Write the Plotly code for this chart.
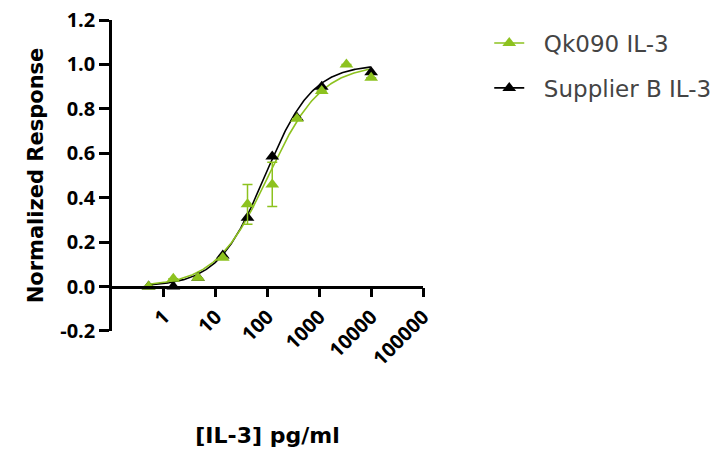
import numpy as np
import plotly.graph_objects as go

# ---- data ----
dose = [0.508, 1.524, 4.572, 13.72, 41.15, 123.5, 370.4, 1111, 3333, 10000]
qk090 = [0.0, 0.035, 0.04, 0.13, 0.37, 0.46, 0.755, 0.88, 1.0, 0.94]
qk090_err = [0, 0, 0, 0, 0.09, 0.10, 0, 0, 0, 0]
supplier_b = [0.0, 0.0, 0.04, 0.14, 0.31, 0.585, 0.76, 0.90, None, 0.965]

# 4PL fit parameters: bottom, top, EC50, hill
fit_qk090 = [0.0, 1.0, 105.0, 0.85]
fit_supplier_b = [0.0, 1.0, 90.0, 0.95]

x_ticks = [1, 10, 100, 1000, 10000, 100000]
x_tick_text = ["1", "10", "100", "1000", "10000", "100000"]
y_ticks = [-0.2, 0.0, 0.2, 0.4, 0.6, 0.8, 1.0, 1.2]
y_tick_text = ["-0.2", "0.0", "0.2", "0.4", "0.6", "0.8", "1.0", "1.2"]

GREEN = "#8dc21f"
BLACK = "#000000"


def four_pl(x, p):
    b, t, ec, h = p
    return b + (t - b) / (1 + (ec / x) ** h)


xc = np.logspace(np.log10(dose[0]), np.log10(dose[-1]), 300)

fig = go.Figure()
fig.add_trace(go.Scatter(x=xc, y=four_pl(xc, fit_supplier_b), mode="lines",
                         line=dict(color=BLACK, width=1.6), showlegend=False, hoverinfo="skip"))
fig.add_trace(go.Scatter(x=xc, y=four_pl(xc, fit_qk090), mode="lines",
                         line=dict(color=GREEN, width=1.6), showlegend=False, hoverinfo="skip"))
fig.add_trace(go.Scatter(x=dose, y=supplier_b, mode="markers",
                         marker=dict(symbol="triangle-up", size=12, color=BLACK),
                         showlegend=False))
fig.add_trace(go.Scatter(x=dose, y=qk090, mode="markers",
                         marker=dict(symbol="triangle-up", size=12, color=GREEN),
                         error_y=dict(type="data", array=qk090_err, color=GREEN,
                                      thickness=1.5, width=5),
                         showlegend=False))

# legend entries
fig.add_trace(go.Scatter(x=[None], y=[None], mode="lines+markers", name="  Qk090 IL-3",
                         legendgroup="a",
                         line=dict(color=GREEN, width=1.6),
                         marker=dict(symbol="triangle-up", size=12, color=GREEN)))
fig.add_trace(go.Scatter(x=[None], y=[None], mode="lines+markers", name="  Supplier B IL-3",
                         legendgroup="b",
                         line=dict(color=BLACK, width=1.6),
                         marker=dict(symbol="triangle-up", size=12, color=BLACK)))

TICKFONT = "Open Sans"
TITLEFONT = "DejaVu Sans"

fig.update_layout(
    width=721, height=452,
    margin=dict(l=112, r=298, t=20, b=121, autoexpand=False),
    paper_bgcolor="white", plot_bgcolor="white",
    font=dict(family=TICKFONT, color="black"),
    legend=dict(x=1.213, y=0.995, xanchor="left", yanchor="top",
                font=dict(size=23, color="#444444", family=TITLEFONT),
                tracegroupgap=12, traceorder="grouped", bgcolor="rgba(0,0,0,0)"),
    xaxis=dict(type="log", range=[-1, 5], tickvals=x_ticks, ticktext=x_tick_text,
               tickangle=-45, ticks="outside", ticklen=9, tickwidth=2.5,
               tickcolor="black", showline=True, linecolor="black", linewidth=2.5,
               showgrid=False, zeroline=False, anchor="free", position=0.2 / 1.4,
               automargin=False,
               tickfont=dict(size=20, family=TICKFONT, weight="bold"),
               title=dict(text="[IL-3] pg/ml",
                          font=dict(size=22, family=TITLEFONT, weight="bold"),
                          standoff=57)),
    yaxis=dict(range=[-0.2002, 1.2002], tickvals=y_ticks, ticktext=y_tick_text,
               ticks="outside", ticklen=10, tickwidth=2.5, tickcolor="black",
               showline=True, linecolor="black", linewidth=2.5, showgrid=False,
               zeroline=False, automargin=False,
               tickfont=dict(size=20, family=TICKFONT, weight="bold"),
               title=dict(text="Normalized Response",
                          font=dict(size=21, family=TITLEFONT, weight="bold"),
                          standoff=11)),
)

fig.write_html("out.html", config={"displayModeBar": False},
               post_script="document.body.style.margin='0';document.body.style.padding='0';")
